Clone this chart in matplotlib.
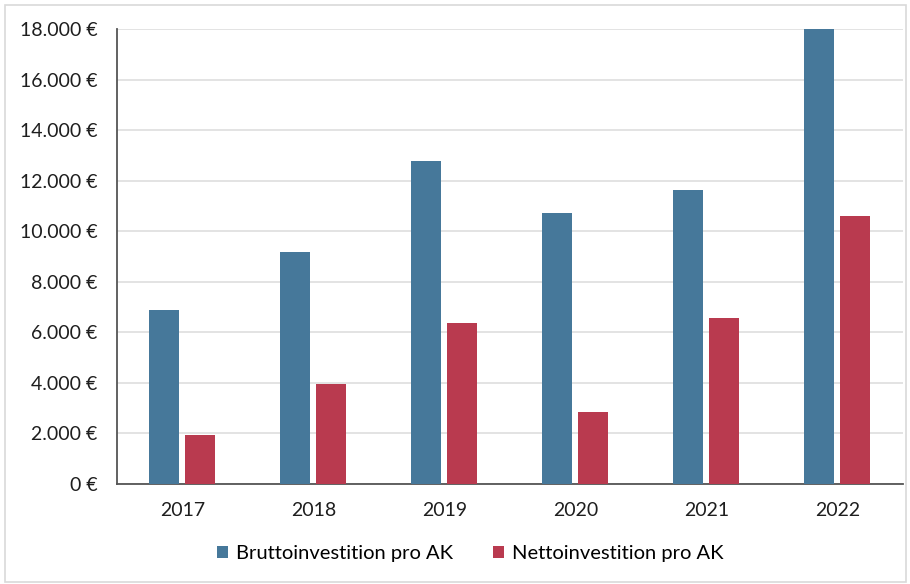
import numpy as np
import matplotlib.pyplot as plt
from matplotlib.patches import Rectangle
from matplotlib.ticker import FuncFormatter

years = ["2017", "2018", "2019", "2020", "2021", "2022"]
brutto = [6900, 9180, 12780, 10720, 11630, 18000]
netto = [1950, 3960, 6370, 2850, 6570, 10600]

c_brutto = "#46789a"
c_netto = "#b93a4f"

plt.rcParams["font.family"] = ["Lato", "DejaVu Sans"]

fig = plt.figure(figsize=(9.1, 5.84), dpi=100)
ax = fig.add_axes([0.1286, 0.1712, 0.8637, 0.7791])

x = np.arange(len(years))
w = 0.225
ax.bar(x - 0.14, brutto, width=w, color=c_brutto, label="Bruttoinvestition pro AK", zorder=3)
ax.bar(x + 0.135, netto, width=w, color=c_netto, label="Nettoinvestition pro AK", zorder=3)

ax.set_xlim(-0.5, len(years) - 0.5)
ax.set_ylim(0, 18000)
ax.set_yticks(np.arange(0, 18001, 2000))
ax.yaxis.set_major_formatter(FuncFormatter(lambda v, p: f"{int(v):,} €".replace(",", ".")))
ax.set_xticks(x)
ax.set_xticklabels(years)
ax.tick_params(axis="both", length=0, labelsize=14, colors="#1e1e1e")
ax.tick_params(axis="y", pad=14)
ax.tick_params(axis="x", pad=13)

ax.grid(axis="y", color="#dedede", linewidth=1.2, zorder=0)
for s in ["top", "right"]:
    ax.spines[s].set_visible(False)
ax.spines["left"].set_color("#555555")
ax.spines["bottom"].set_color("#555555")
ax.spines["left"].set_linewidth(1.3)
ax.spines["bottom"].set_linewidth(1.3)

fig.legend(loc="center", bbox_to_anchor=(0.517, 0.052), ncol=2, frameon=False,
           fontsize=14.5, handlelength=0.55, handleheight=0.55, handletextpad=0.4,
           columnspacing=2.0)

fig.patches.append(Rectangle((0.006, 0.004), 0.99, 0.988, transform=fig.transFigure,
                             fill=False, edgecolor="#d9d9d9", linewidth=1.2))

fig.savefig("out.png", dpi=100)
